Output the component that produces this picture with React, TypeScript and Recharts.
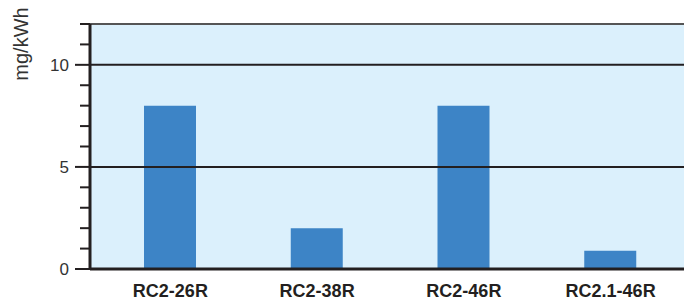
import { BarChart, Bar, XAxis, YAxis, CartesianGrid, ReferenceLine } from "recharts";

const models = ["RC2-26R", "RC2-38R", "RC2-46R", "RC2.1-46R"];
const emissions = [8, 2, 8, 0.9];
const yTicks = [0, 1, 2, 3, 4, 5, 6, 7, 8, 9, 10, 11, 12];
const yLabels = [0, 5, 10];
const gridLines = [5, 10];

const data = models.map((m, i) => ({ model: m, value: emissions[i] }));

const FONT = "'Liberation Sans', Arial, Helvetica, sans-serif";
const INK = "#231f20";

function YTick(props: any) {
  const { x, y, payload } = props;
  const major = yLabels.includes(payload.value);
  return (
    <g>
      <line x1={x - (major ? 15 : 10)} x2={x} y1={y} y2={y} stroke={INK} strokeWidth={2} />
      {major && (
        <text x={x - 21} y={y} dy={6} textAnchor="end" fontSize={17} fill="#333" fontFamily={FONT}>
          {payload.value}
        </text>
      )}
    </g>
  );
}

export default function App() {
  return (
    <div style={{ position: "absolute", left: 0, top: 0, width: 684, height: 303, background: "#fff" }}>
      <BarChart width={684} height={303} data={data} margin={{ top: 24, right: 0, bottom: 0, left: 0 }}>
        <CartesianGrid horizontal={false} vertical={false} fill="#dbf0fc" stroke="none" />
        <ReferenceLine y={12} stroke="#555" strokeWidth={2} />
        {gridLines.map((g) => (
          <ReferenceLine key={g} y={g} stroke={INK} strokeWidth={2} />
        ))}
        <XAxis
          dataKey="model"
          height={34}
          padding={{ left: 7, right: 0 }}
          axisLine={{ stroke: INK, strokeWidth: 3 }}
          tickLine={false}
          tickSize={0}
          tickMargin={15}
          tick={{ fontSize: 18, fontWeight: "bold", fill: INK, fontFamily: FONT }}
        />
        <YAxis
          width={90}
          domain={[0, 12]}
          ticks={yTicks}
          interval={0}
          axisLine={{ stroke: INK, strokeWidth: 3 }}
          tickLine={false}
          tickSize={0}
          tickMargin={0}
          tick={<YTick />}
          label={{
            content: () => (
              <text x={23} y={44} transform="rotate(-90 23 44)" textAnchor="middle" dominantBaseline="middle" fontSize={20} fill="#333" fontFamily={FONT}>
                mg/kWh
              </text>
            ),
          }}
        />
        <Bar dataKey="value" fill="#3d84c6" barSize={52} isAnimationActive={false} />
      </BarChart>
    </div>
  );
}
